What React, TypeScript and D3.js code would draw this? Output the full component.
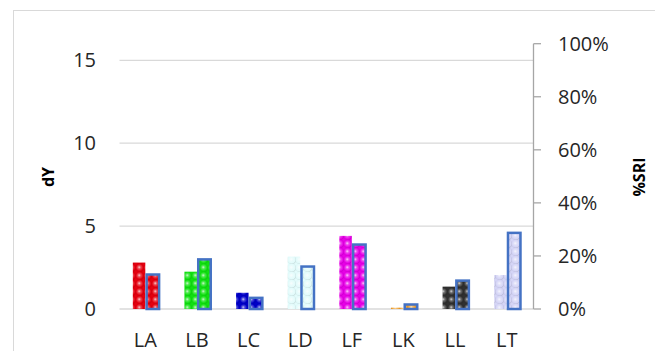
import React from "react";
import * as d3 from "d3";

const categories = ["LA", "LB", "LC", "LD", "LF", "LK", "LL", "LT"];
const dYValues = [2.8, 2.25, 0.98, 3.16, 4.41, 0.08, 1.35, 2.05];
const sriValues = [0.13, 0.187, 0.042, 0.16, 0.243, 0.017, 0.107, 0.287];
const leftTicks = [0, 5, 10, 15];
const rightTicks = [0, 0.2, 0.4, 0.6, 0.8, 1.0];
const barColors = ["#e4000f", "#10e010", "#0000c8", "#e2fbfb", "#e600e6", "#f0a030", "#303030", "#d4d4f6"];

const W = 655;
const H = 351;
const FONT = "'Open Sans', 'Noto Sans', sans-serif";
const TEXT = "#262626";

export default function App() {
  const x = d3.scaleBand<string>().domain(categories).range([119.5, 532.5]).padding(0);
  const yL = d3.scaleLinear().domain([0, 16]).range([309, 43.7]);
  const yR = d3.scaleLinear().domain([0, 1]).range([309, 43.7]);
  const fmtPct = d3.format(".0%");
  const barW = 12.5;

  return (
    <svg width={W} height={H} style={{ position: "absolute", left: 0, top: 0, background: "#fff" }}>
      <defs>
        {barColors.map((c, i) => {
          const light = d3.interpolateRgb(c, "#ffffff")(0.8);
          const mid = d3.interpolateRgb(c, "#ffffff")(0.3);
          const dark = d3.interpolateRgb(c, "#000000")(0.12);
          return (
            <radialGradient key={`g${i}`} id={`grad${i}`} cx="0.45" cy="0.45" r="0.55" fx="0.4" fy="0.4">
              <stop offset="0%" stopColor={light} />
              <stop offset="35%" stopColor={mid} />
              <stop offset="80%" stopColor={c} />
              <stop offset="100%" stopColor={dark} />
            </radialGradient>
          );
        })}
        {barColors.map((c, i) => (
          <pattern key={i} id={`pat${i}`} width={8} height={8} patternUnits="userSpaceOnUse">
            <rect width={8} height={8} fill={c} />
            <circle cx={4} cy={4} r={4} fill={`url(#grad${i})`} />
          </pattern>
        ))}
      </defs>
      <rect x={0} y={0} width={W} height={H} fill="#fff" />
      {/* chart border */}
      <rect x={13.5} y={10.5} width={W} height={H + 10} fill="none" stroke="#d9d9d9" strokeWidth={1} />

      {/* gridlines */}
      {leftTicks.map((t) => (
        <line key={t} x1={119.5} x2={533.5} y1={yL(t)} y2={yL(t)} stroke="#d9d9d9" strokeWidth={1.3} />
      ))}

      {/* left tick labels */}
      {leftTicks.map((t) => (
        <text key={t} x={96} y={yL(t)} dy="0.35em" textAnchor="end" fontFamily={FONT} fontSize={20} fill={TEXT}>
          {t}
        </text>
      ))}

      {/* right axis */}
      <line x1={533.5} x2={533.5} y1={yR(0)} y2={yR(1)} stroke="#a6a6a6" strokeWidth={1.3} />
      {rightTicks.map((t) => (
        <g key={t}>
          <line x1={533.5} x2={541} y1={yR(t)} y2={yR(t)} stroke="#a6a6a6" strokeWidth={1.3} />
          <text x={558} y={yR(t)} dy="0.35em" textAnchor="start" fontFamily={FONT} fontSize={20} fill={TEXT}>
            {fmtPct(t)}
          </text>
        </g>
      ))}

      {/* bars */}
      {categories.map((c, i) => {
        const cx = (x(c) as number) + x.bandwidth() / 2;
        const v1 = dYValues[i];
        const v2 = sriValues[i];
        return (
          <g key={c}>
            <rect x={cx - barW} y={yL(v1)} width={barW} height={yL(0) - yL(v1)} fill={`url(#pat${i})`} />
            <rect
              x={cx + 1.3}
              y={yR(v2)}
              width={barW}
              height={yR(0) - yR(v2)}
              fill={`url(#pat${i})`}
              stroke="#4472c4"
              strokeWidth={2.5}
            />
          </g>
        );
      })}

      {/* category labels */}
      {categories.map((c) => (
        <text
          key={c}
          x={(x(c) as number) + x.bandwidth() / 2}
          y={347}
          textAnchor="middle"
          fontFamily={FONT}
          fontSize={20}
          fill={TEXT}
        >
          {c}
        </text>
      ))}

      {/* axis titles */}
      <text
        transform="translate(54,177) rotate(-90)"
        textAnchor="middle"
        fontFamily={FONT}
        fontSize={16}
        fontWeight="bold"
        fill="#000"
      >
        dY
      </text>
      <text
        transform="translate(645,177) rotate(-90)"
        textAnchor="middle"
        fontFamily={FONT}
        fontSize={16}
        fontWeight="bold"
        fill="#000"
      >
        %SRI
      </text>
    </svg>
  );
}
